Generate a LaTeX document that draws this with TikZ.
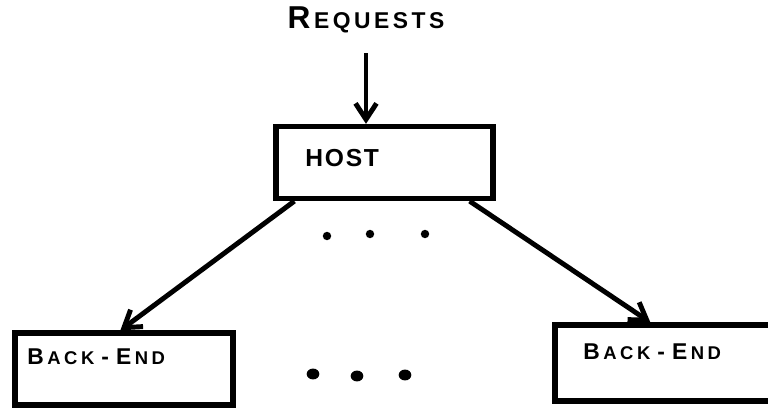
\documentclass[tikz,border=0pt]{standalone}
\usepackage{fontspec}
\setmainfont{Liberation Sans}
\usetikzlibrary{arrows.meta}

% gap between hand lettered capitals
\newcommand{\kk}{\hspace{2pt}}
\newcommand{\sm}[1]{{\fontsize{10.5}{12}\selectfont #1}}

\tikzset{
  box/.style={draw, line width=3pt, rectangle, minimum height=1.44cm},
  handtext/.style={font=\bfseries\fontsize{13}{15}\selectfont, inner sep=0pt, anchor=west},
  link/.style={line width=2.8pt, -{Straight Barb[length=3.2mm,width=4.2mm]}}
}

\begin{document}
\begin{tikzpicture}

\clip (0,0) rectangle (15.36,8.14);

% Incoming requests
\node[font=\bfseries\fontsize{13}{15}\selectfont] (requests) at (7.32,7.74)
  {{\fontsize{18}{20}\selectfont R}\kk E\kk Q\kk U\kk E\kk S\kk T\kk S};

% Host
\node[box, minimum width=4.34cm] (host) at (7.69,4.89) {};
\node[handtext, font=\bfseries\fontsize{14}{16}\selectfont] (hostname) at (6.10,4.98)
  {H\hspace{1pt}O\hspace{1pt}S\hspace{1pt}T};

% Back-ends (the right one runs off the edge)
\node[box, minimum width=4.36cm] (lback) at (2.48,0.76) {};
\node[handtext] (lbackname) at (0.54,1.00)
  {B\kk\sm{A\kk C\kk K}\hspace{4pt}-\hspace{4pt}E\kk\sm{N\kk D}};

\node[box, minimum width=4.4cm, minimum height=1.52cm] (rback) at (13.30,0.88) {};
\node[handtext] (rbackname) at (11.66,1.10)
  {B\kk\sm{A\kk C\kk K}\hspace{4pt}-\hspace{4pt}E\kk\sm{N\kk D}};

% Arrows
\draw[link, shorten <=8pt] (requests.south) -- (requests.south |- host.north);
\draw[link] ([xshift=0.42cm]host.south west) -- ([xshift=2.16cm]lback.north west);
\draw[link] ([xshift=-0.52cm]host.south east) -- ([xshift=1.96cm]rback.north west);

% More of them
\foreach \x/\y in {6.54/3.42, 7.40/3.46, 8.50/3.46}
  \fill (\x,\y) circle (2.4pt);
\foreach \x/\y in {6.26/0.66, 7.14/0.62, 8.10/0.64}
  \fill (\x,\y) ellipse (3.6pt and 3.1pt);

\end{tikzpicture}
\end{document}
